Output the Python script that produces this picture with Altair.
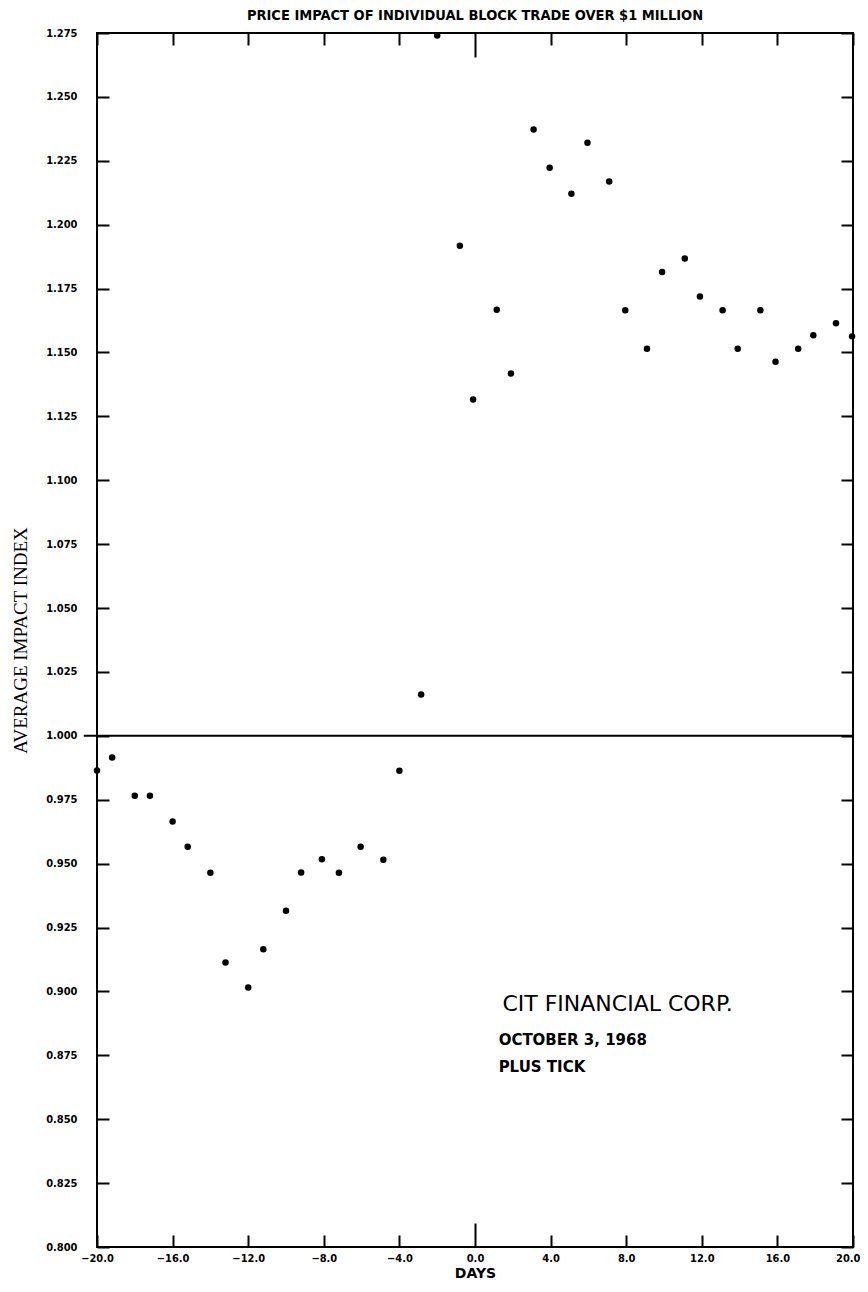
import altair as alt
import pandas as pd

# ---- data ----
days = [-20.0, -19.2, -18.0, -17.2, -16.0, -15.2, -14.0, -13.2, -12.0, -11.2,
        -10.0, -9.2, -8.1, -7.2, -6.05, -4.85, -4.0, -2.85, -2.0, -0.8,
        -0.1, 1.15, 1.9, 3.1, 3.95, 5.1, 5.95, 7.1, 7.95, 9.1,
        9.9, 11.1, 11.9, 13.1, 13.9, 15.1, 15.9, 17.1, 17.9, 19.1, 19.95]
values = [0.9864, 0.9915, 0.9766, 0.9766, 0.9665, 0.9566, 0.9464, 0.9113, 0.9015, 0.9165,
          0.9316, 0.9465, 0.9517, 0.9464, 0.9566, 0.9515, 0.9863, 1.0162, 1.2740, 1.1918,
          1.1316, 1.1667, 1.1418, 1.2372, 1.2223, 1.2121, 1.2321, 1.2169, 1.1665, 1.1515,
          1.1815, 1.1868, 1.1719, 1.1665, 1.1515, 1.1665, 1.1464, 1.1515, 1.1567, 1.1614, 1.1563]

x_ticks = [-20, -16, -12, -8, -4, 0, 4, 8, 12, 16, 20]
y_ticks = [0.800, 0.825, 0.850, 0.875, 0.900, 0.925, 0.950, 0.975, 1.000,
           1.025, 1.050, 1.075, 1.100, 1.125, 1.150, 1.175, 1.200, 1.225, 1.250, 1.275]

ref_level = [1.0]
ref_start = [-20.7]
ref_end = [20.0]

head_note = ["CIT FINANCIAL CORP."]
head_day = [1.45]
head_value = [0.8924]

sub_notes = ["OCTOBER 3, 1968", "PLUS TICK"]
sub_days = [1.25, 1.25]
sub_values = [0.8790, 0.8685]

title_text = "PRICE IMPACT OF INDIVIDUAL BLOCK TRADE OVER $1 MILLION"

# ---- layout ----
W, H = 756, 1214
LAB = "DejaVu Sans Condensed"

df = pd.DataFrame({"day": days, "value": values})
df_rule = pd.DataFrame({"start": ref_start, "end": ref_end, "level": ref_level})
df_head = pd.DataFrame({"note": head_note, "nday": head_day, "nval": head_value})
df_sub = pd.DataFrame({"note": sub_notes, "nday": sub_days, "nval": sub_values})

xs = alt.Scale(domain=[-20, 20], nice=False, zero=False)
ys = alt.Scale(domain=[0.8, 1.275], nice=False, zero=False)

last_label_align = {"condition": {"test": "datum.value == 20", "value": "right"}, "value": "center"}
last_label_offset = {"condition": {"test": "datum.value == 20", "value": 7}, "value": 0}

points = alt.Chart(df).mark_circle(size=42, color="black", opacity=1).encode(
    x=alt.X("day:Q", scale=xs, axis=alt.Axis(
        orient="bottom", values=x_ticks, format=".1f", ticks=False, domain=False, grid=False,
        labelFont=LAB, labelFontWeight="bold", labelFontSize=11, labelColor="black",
        labelPadding=5, labelFlush=False,
        labelAlign=last_label_align, labelOffset=last_label_offset,
        title="DAYS", titleFont="DejaVu Sans", titleFontSize=14, titleFontWeight="bold",
        titleColor="black", titlePadding=3)),
    y=alt.Y("value:Q", scale=ys, axis=alt.Axis(
        orient="left", values=y_ticks, format=".3f", ticks=False, domain=False, grid=False,
        labelFont=LAB, labelFontWeight="bold", labelFontSize=11, labelColor="black",
        labelPadding=20, labelFlush=False,
        title="AVERAGE IMPACT INDEX", titleFont="Liberation Serif", titleFontSize=19,
        titleFontWeight="normal", titleColor="black", titlePadding=15)),
)

tick_x_size = {"condition": {"test": "datum.value == 0", "value": 24}, "value": 12}

ticks_a = alt.Chart(df).mark_point(opacity=0).encode(
    x=alt.X("day:Q", scale=xs, axis=alt.Axis(
        orient="top", offset=-H, values=x_ticks, labels=False, domain=False, grid=False,
        tickColor="black", tickWidth=2, tickSize=tick_x_size, title=None)),
    y=alt.Y("value:Q", scale=ys, axis=alt.Axis(
        orient="right", offset=-W, values=y_ticks, labels=False, domain=False, grid=False,
        tickColor="black", tickWidth=2, tickSize=12, title=None)),
)

ticks_b = alt.Chart(df).mark_point(opacity=0).encode(
    x=alt.X("day:Q", scale=xs, axis=alt.Axis(
        orient="bottom", offset=-H, values=x_ticks, labels=False, domain=False, grid=False,
        tickColor="black", tickWidth=2, tickSize=tick_x_size, title=None)),
    y=alt.Y("value:Q", scale=ys, axis=alt.Axis(
        orient="left", offset=-W, values=y_ticks, labels=False, domain=False, grid=False,
        tickColor="black", tickWidth=2, tickSize=12, title=None)),
)

rule = alt.Chart(df_rule).mark_rule(color="black", strokeWidth=2).encode(
    x=alt.X("start:Q", scale=xs, axis=None),
    x2="end:Q",
    y=alt.Y("level:Q", scale=ys, axis=None),
)

head = alt.Chart(df_head).mark_text(
    align="left", baseline="alphabetic", font="DejaVu Sans", fontSize=22, color="black"
).encode(
    x=alt.X("nday:Q", scale=xs, axis=None),
    y=alt.Y("nval:Q", scale=ys, axis=None),
    text="note:N",
)

subs = alt.Chart(df_sub).mark_text(
    align="left", baseline="alphabetic", font="DejaVu Sans", fontSize=15,
    fontWeight="bold", color="black"
).encode(
    x=alt.X("nday:Q", scale=xs, axis=None),
    y=alt.Y("nval:Q", scale=ys, axis=None),
    text="note:N",
)

chart = alt.layer(rule, points, ticks_a, ticks_b, head, subs).resolve_axis(
    x="independent", y="independent"
).properties(
    width=W, height=H,
    title=alt.TitleParams(title_text, font=LAB, fontSize=14.5, fontWeight="bold",
                          anchor="middle", frame="group", offset=4, color="black"),
    autosize=alt.AutoSizeParams(type="none"),
    padding={"left": 89, "top": 25, "right": 7, "bottom": 37},
).configure_view(stroke="black", strokeWidth=2)

chart.save("out.html", embed_options={"renderer": "svg", "actions": False})
